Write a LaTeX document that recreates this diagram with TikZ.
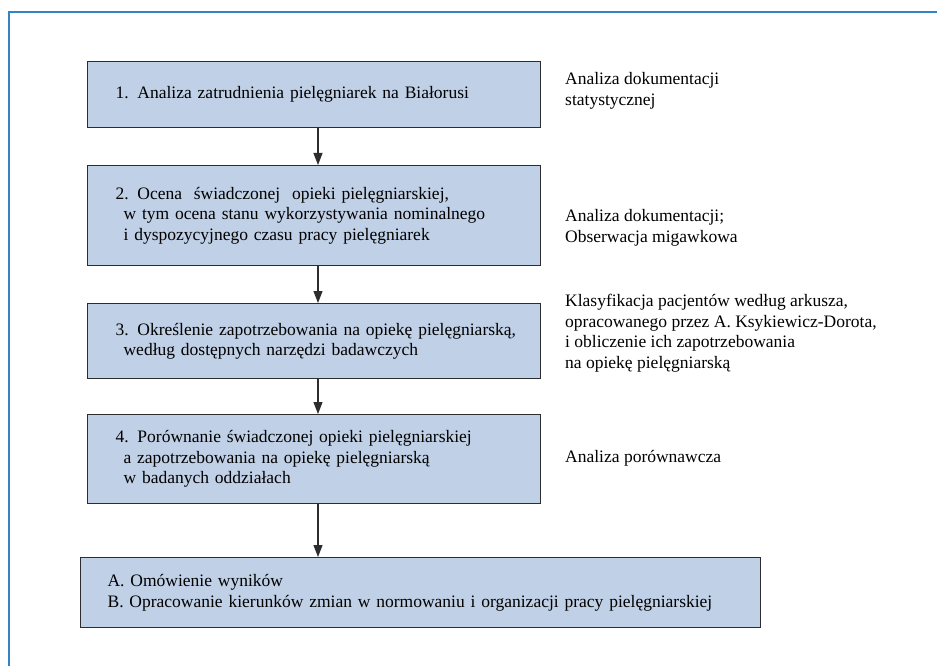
\documentclass[tikz,border=0pt]{standalone}
\usepackage{fontspec}
\setmainfont{Liberation Serif}
\usetikzlibrary{arrows.meta,positioning}
\definecolor{frameblue}{RGB}{52,132,196}
\definecolor{boxfill}{RGB}{192,208,230}
\definecolor{boxline}{RGB}{45,45,45}

\begin{document}
\begin{tikzpicture}[x=1pt,y=-1pt,>={Triangle[width=9pt,length=12pt]},
	stepbox/.style={draw=boxline, fill=boxfill, line width=1.2pt, anchor=north west, align=left,
		inner xsep=14pt, inner ysep=0pt, text width=425pt, font=\fontsize{17.5}{20.5}\selectfont,
		execute at begin node={\leftskip=14pt\relax}},
	note/.style={anchor=west, align=left, inner sep=0pt, font=\fontsize{17.5}{20.5}\selectfont}]
	\useasboundingbox (0,0) rectangle (937,666);
	\draw[frameblue, line width=2pt] (937,12) -- (9,12) -- (9,666);

	% kroki badania
	\node[stepbox, minimum height=66pt] (s1) at (87,61) {1. Analiza zatrudnienia pielęgniarek na Białorusi};
	\node[stepbox, minimum height=100pt] (s2) at (87,165) {2. Ocena\ \ świadczonej\ \ opieki pielęgniarskiej,\\
		\hspace*{8pt}w tym ocena stanu wykorzystywania nominalnego\\
		\hspace*{8pt}i dyspozycyjnego czasu pracy pielęgniarek};
	\node[stepbox, minimum height=75pt] (s3) at (87,303) {3. Określenie zapotrzebowania na opiekę pielęgniarską,\\
		\hspace*{8pt}według dostępnych narzędzi badawczych};
	\node[stepbox, minimum height=89pt] (s4) at (87,414) {4. Porównanie świadczonej opieki pielęgniarskiej\\
		\hspace*{8pt}a zapotrzebowania na opiekę pielęgniarską\\
		\hspace*{8pt}w badanych oddziałach};
	\node[stepbox, minimum height=70pt, inner xsep=13pt, text width=654pt] (s5) at (80,557) {A. Omówienie wyników\\
		B. Opracowanie kierunków zmian w normowaniu i organizacji pracy pielęgniarskiej};

	% metody
	\node[note] (m1) at (565,91) {Analiza dokumentacji\\statystycznej};
	\node[note] (m2) at (565,228) {Analiza dokumentacji;\\Obserwacja migawkowa};
	\node[note] (m3) at (565,333) {Klasyfikacja pacjentów według arkusza,\\
		opracowanego przez A. Ksykiewicz-Dorota,\\
		i obliczenie ich zapotrzebowania\\
		na opiekę pielęgniarską};
	\node[note] (m4) at (565,458) {Analiza porównawcza};

	% strzalki
	\coordinate (ax) at (318,0);
	\draw[boxline, line width=1.2pt, ->] (s1.south -| ax) -- (s2.north -| ax);
	\draw[boxline, line width=1.2pt, ->] (s2.south -| ax) -- (s3.north -| ax);
	\draw[boxline, line width=1.2pt, ->] (s3.south -| ax) -- (s4.north -| ax);
	\draw[boxline, line width=1.2pt, ->] (s4.south -| ax) -- (s5.north -| ax);
\end{tikzpicture}
\end{document}
